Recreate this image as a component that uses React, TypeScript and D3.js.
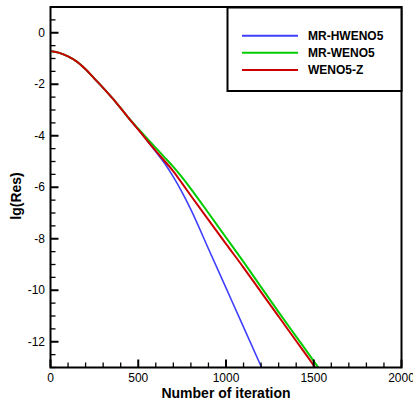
import React from "react";
import * as d3 from "d3";

const seriesNames = ["MR-HWENO5", "MR-WENO5", "WENO5-Z"];
const seriesColors = ["#3f3fff", "#00cc00", "#cc0000"];

// shared early part (iteration, lg(Res))
const commonIter = [5, 50, 100, 150, 200, 250, 300, 350, 400, 450];
const commonRes = [-0.72, -0.78, -0.92, -1.12, -1.42, -1.78, -2.14, -2.52, -2.93, -3.35];

const hwenoIter = [500, 550, 600, 650, 700, 750, 800, 900, 1000, 1100, 1203];
const hwenoRes = [-3.76, -4.18, -4.62, -5.07, -5.6, -6.2, -6.87, -8.39, -9.91, -11.43, -13.0];

const mrwenoIter = [500, 550, 600, 650, 700, 750, 800, 900, 1000, 1100, 1200, 1300, 1400, 1500, 1526];
const mrwenoRes = [-3.73, -4.1, -4.47, -4.84, -5.21, -5.62, -6.06, -7.0, -7.95, -8.9, -9.88, -10.85, -11.8, -12.75, -13.0];

const zIter = [500, 550, 600, 650, 700, 750, 800, 900, 1000, 1100, 1200, 1300, 1400, 1500, 1508];
const zRes = [-3.76, -4.18, -4.59, -4.98, -5.38, -5.85, -6.33, -7.27, -8.2, -9.12, -10.07, -11.02, -11.97, -12.92, -13.0];

const xMajorTicks = [0, 500, 1000, 1500, 2000];
const yMajorTicks = [0, -2, -4, -6, -8, -10, -12];

const W = 413;
const H = 405;
const left = 50.5;
const right = 401.5;
const top = 7;
const bottom = 367.5;

export default function App() {
  const x = d3.scaleLinear().domain([0, 2000]).range([left, right]);
  const y = d3.scaleLinear().domain([-13, 1]).range([bottom, top]);

  const mk = (it: number[], rs: number[]) => {
    const pts: [number, number][] = commonIter.map((v, i) => [v, commonRes[i]]);
    it.forEach((v, i) => pts.push([v, rs[i]]));
    return pts;
  };
  const data = [mk(hwenoIter, hwenoRes), mk(mrwenoIter, mrwenoRes), mk(zIter, zRes)];
  const line = d3
    .line<[number, number]>()
    .x((d) => x(d[0]))
    .y((d) => y(d[1]))
    .curve(d3.curveMonotoneX);

  const xMinor = d3.range(0, 2001, 100).filter((v) => v % 500 !== 0);
  const yMinor = d3.range(-13, 1.01, 0.5).filter((v) => Math.abs(v % 2) > 1e-9);

  const font = "'Liberation Sans', Arial, sans-serif";
  const widths = [1.6, 2, 2];

  return (
    <svg
      width={W}
      height={H}
      style={{ position: "absolute", left: 0, top: 0, background: "#fff" }}
      fontFamily={font}
    >
      <defs>
        <clipPath id="plotclip">
          <rect x={left} y={top} width={right - left} height={bottom - top} />
        </clipPath>
      </defs>
      <g clipPath="url(#plotclip)">
        {data.map((d, i) => (
          <path
            key={i}
            d={line(d) || ""}
            fill="none"
            stroke={seriesColors[i]}
            strokeWidth={widths[i]}
          />
        ))}
      </g>
      {/* frame */}
      <rect
        x={left}
        y={top}
        width={right - left}
        height={bottom - top}
        fill="none"
        stroke="#000"
        strokeWidth={2}
      />
      {/* x ticks */}
      {xMinor.map((v) => (
        <line key={"xm" + v} x1={x(v)} x2={x(v)} y1={bottom} y2={bottom - 5} stroke="#000" strokeWidth={1.3} />
      ))}
      {xMajorTicks.map((v) => (
        <g key={"xM" + v}>
          <line x1={x(v)} x2={x(v)} y1={bottom} y2={bottom - 8} stroke="#000" strokeWidth={2} />
          <text x={x(v)} y={382} textAnchor="middle" fontSize={12}>
            {v}
          </text>
        </g>
      ))}
      {/* y ticks */}
      {yMinor.map((v) => (
        <line key={"ym" + v} x1={left} x2={left + 5} y1={y(v)} y2={y(v)} stroke="#000" strokeWidth={1.3} />
      ))}
      {yMajorTicks.map((v) => (
        <g key={"yM" + v}>
          <line x1={left} x2={left + 8} y1={y(v)} y2={y(v)} stroke="#000" strokeWidth={2} />
          <text x={45} y={y(v)} dy="0.35em" textAnchor="end" fontSize={12}>
            {v}
          </text>
        </g>
      ))}
      {/* axis titles */}
      <text x={226} y={398} textAnchor="middle" fontSize={14} fontWeight="bold">
        Number of iteration
      </text>
      <text
        transform={`translate(21,196) rotate(-90)`}
        textAnchor="middle"
        fontSize={14}
        fontWeight="bold"
      >
        lg(Res)
      </text>
      {/* legend */}
      <rect x={227.5} y={7.5} width={174} height={83.5} fill="#fff" stroke="#000" strokeWidth={2} />
      {seriesNames.map((n, i) => {
        const ly = [35.7, 52.7, 70][i];
        return (
          <g key={n}>
            <line x1={242} x2={298} y1={ly} y2={ly} stroke={seriesColors[i]} strokeWidth={2} />
            <text x={308} y={ly} dy="0.35em" fontSize={12} fontWeight="bold">
              {n}
            </text>
          </g>
        );
      })}
    </svg>
  );
}
